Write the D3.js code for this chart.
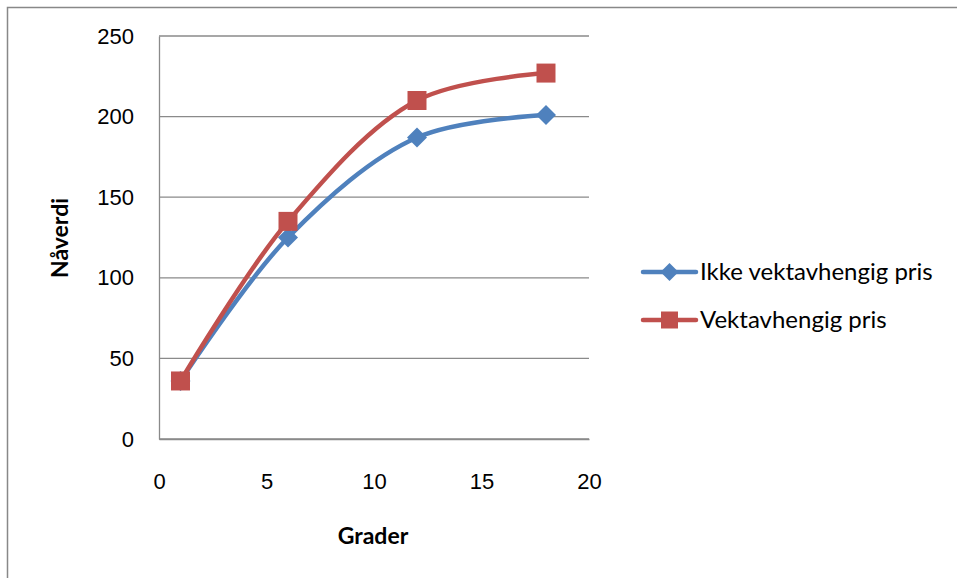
<!DOCTYPE html>
<html>
<head>
<meta charset="utf-8">
<script src="https://cdn.jsdelivr.net/npm/d3@7"></script>
<style>
  body { margin: 0; background: #fff; }
  svg { font-family: Lato, 'Open Sans', sans-serif; }
</style>
</head>
<body>
<div id="chart"></div>
<script>
const grader = [1, 6, 12, 18]
const ikkeVektavhengig = [36, 125, 187, 201]
const vektavhengig = [36, 135, 210, 227]
const xTicks = [0, 5, 10, 15, 20]
const yTicks = [0, 50, 100, 150, 200, 250]
const seriesNames = ['Ikke vektavhengig pris', 'Vektavhengig pris']

const W = 957, H = 578
const margin = { top: 36, left: 159, right: 368, bottom: 139 }
const width = W - margin.left - margin.right
const height = H - margin.top - margin.bottom

const svg = d3.select('#chart').append('svg')
  .attr('width', W)
  .attr('height', H)

// outer frame
svg.append('rect')
  .attr('x', 7.5).attr('y', 7.5)
  .attr('width', W).attr('height', H)
  .attr('fill', 'none')
  .attr('stroke', '#888').attr('stroke-width', 1.5)

const g = svg.append('g')
  .attr('transform', 'translate(' + margin.left + ',' + margin.top + ')')

var x = d3.scaleLinear().domain([0, 20]).range([0, width])
var y = d3.scaleLinear().domain([0, 250]).range([height, 0])

// gridlines
g.append('g')
  .selectAll('line')
  .data(yTicks)
  .enter()
  .append('line')
  .attr('x1', 0).attr('x2', width)
  .attr('y1', d => y(d)).attr('y2', d => y(d))
  .attr('stroke', '#8a8a8a').attr('stroke-width', 1.3)

// Y axis
const yAxis = g.append('g')
  .call(d3.axisLeft(y).tickValues(yTicks).tickSize(0).tickPadding(25))
yAxis.select('.domain').attr('stroke', '#8a8a8a').attr('stroke-width', 1.3)
yAxis.selectAll('text').attr('font-size', 22).attr('fill', '#000')

// X axis
const xAxis = g.append('g')
  .attr('transform', 'translate(0,' + height + ')')
  .call(d3.axisBottom(x).tickValues(xTicks).tickSize(0).tickPadding(34))
xAxis.select('.domain').attr('stroke', '#8a8a8a').attr('stroke-width', 1.3)
xAxis.selectAll('text').attr('font-size', 22).attr('fill', '#000')

// axis titles
svg.append('text')
  .attr('x', 373).attr('y', 544)
  .attr('text-anchor', 'middle')
  .attr('font-size', 23).attr('font-weight', 'bold')
  .text('Grader')
svg.append('text')
  .attr('transform', 'translate(68,238)rotate(-90)')
  .attr('text-anchor', 'middle')
  .attr('font-size', 23).attr('font-weight', 'bold')
  .text('Nåverdi')

const colors = ['#4f81bd', '#c0504d']
const series = [ikkeVektavhengig, vektavhengig]

const line = d3.line()
  .x((d, i) => x(grader[i]))
  .y(d => y(d))
  .curve(d3.curveCatmullRom.alpha(0.5))

const diamond = s => 'M0,' + (-s) + 'L' + s + ',0L0,' + s + 'L' + (-s) + ',0Z'

series.forEach((vals, k) => {
  g.append('path')
    .datum(vals)
    .attr('d', line)
    .attr('fill', 'none')
    .attr('stroke', colors[k])
    .attr('stroke-width', 4.5)
    .attr('stroke-linecap', 'round')
})

series.forEach((vals, k) => {
  const m = g.append('g').selectAll('path')
    .data(vals)
    .enter()
    .append('path')
    .attr('transform', (d, i) => 'translate(' + x(grader[i]) + ',' + y(d) + ')')
    .attr('fill', colors[k])
  if (k === 0) m.attr('d', diamond(10))
  else m.attr('d', 'M-9.5,-9.5h19v19h-19Z')
})

// legend
const legend = svg.append('g')
seriesNames.forEach((name, k) => {
  const ly = 272 + k * 48
  legend.append('line')
    .attr('x1', 643).attr('x2', 696)
    .attr('y1', ly).attr('y2', ly)
    .attr('stroke', colors[k]).attr('stroke-width', 4.5)
    .attr('stroke-linecap', 'round')
  legend.append('path')
    .attr('transform', 'translate(669.5,' + ly + ')')
    .attr('d', k === 0 ? diamond(9) : 'M-8.5,-8.5h17v17h-17Z')
    .attr('fill', colors[k])
  legend.append('text')
    .attr('x', 700).attr('y', ly)
    .attr('dy', '0.35em')
    .attr('font-size', 24)
    .text(name)
})
</script>
</body>
</html>
